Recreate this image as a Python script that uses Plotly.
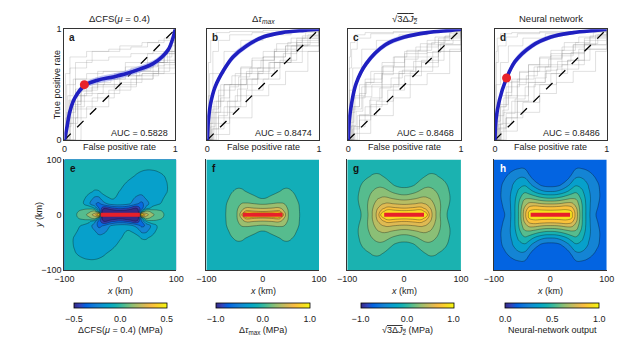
import plotly.graph_objects as go

W, H = 640, 347
FONT = "Liberation Sans, Arial, sans-serif"

# ---------------- ROC data (panels a-d) ----------------
roc_titles = ["ΔCFS(<i>μ</i> = 0.4)", "Δ<i>τ</i><sub><i>max</i></sub>",
              "√<span style='text-decoration:overline'>3Δ<i>J</i><sub>2</sub></span>", "Neural network"]
auc_values = ["0.5828", "0.8474", "0.8468", "0.8486"]
top_letters = ["a", "b", "c", "d"]

mean_fpr_a = [0, 0.02, 0.05, 0.094, 0.18, 0.3, 0.44, 0.56, 0.68, 0.8, 0.88, 0.94, 0.985, 1]
mean_tpr_a = [0, 0.10, 0.26, 0.38, 0.49, 0.54, 0.57, 0.60, 0.64, 0.69, 0.75, 0.82, 0.94, 1]
sd_a = [0, 0.02, 0.03, 0.03, 0.03, 0.03, 0.03, 0.03, 0.03, 0.03, 0.03, 0.03, 0.02, 0]

mean_fpr_b = [0, 0.01, 0.03, 0.07, 0.146, 0.23, 0.35, 0.5, 0.67, 0.87, 1]
mean_tpr_b = [0, 0.18, 0.33, 0.48, 0.63, 0.75, 0.85, 0.93, 0.97, 0.99, 1]
sd_b = [0, 0.03, 0.03, 0.03, 0.03, 0.03, 0.025, 0.02, 0.015, 0.01, 0]

mean_fpr_c = [0, 0.01, 0.03, 0.07, 0.16, 0.33, 0.5, 0.7, 0.91, 1]
mean_tpr_c = [0, 0.18, 0.33, 0.51, 0.69, 0.86, 0.93, 0.97, 0.99, 1]
sd_c = [0, 0.03, 0.03, 0.03, 0.03, 0.025, 0.02, 0.015, 0.01, 0]

mean_fpr_d = [0, 0.01, 0.04, 0.1, 0.18, 0.33, 0.5, 0.7, 0.9, 1]
mean_tpr_d = [0, 0.19, 0.36, 0.55, 0.71, 0.85, 0.93, 0.97, 0.99, 1]
sd_d = [0, 0.03, 0.03, 0.03, 0.03, 0.025, 0.02, 0.015, 0.01, 0]

dot_a = (0.18, 0.50)
dot_d = (0.104, 0.56)

gray_a = [
    ([0, 0.05, 0.15, 0.3, 0.45, 0.6, 0.8, 0.95, 1], [0, 0.35, 0.5, 0.55, 0.6, 0.65, 0.7, 0.85, 1]),
    ([0, 0.02, 0.1, 0.25, 0.5, 0.7, 0.85, 1], [0, 0.5, 0.7, 0.8, 0.85, 0.88, 0.9, 1]),
    ([0, 0.1, 0.2, 0.4, 0.6, 0.8, 1], [0, 0.2, 0.3, 0.45, 0.55, 0.6, 1]),
    ([0, 0.03, 0.08, 0.2, 0.35, 0.55, 0.75, 0.9, 1], [0, 0.4, 0.55, 0.6, 0.62, 0.7, 0.78, 0.8, 1]),
    ([0, 0.05, 0.12, 0.3, 0.5, 0.65, 0.85, 1], [0, 0.15, 0.35, 0.42, 0.5, 0.58, 0.7, 1]),
    ([0, 0.01, 0.05, 0.2, 0.4, 0.6, 0.75, 0.9, 1], [0, 0.6, 0.75, 0.8, 0.82, 0.84, 0.88, 0.92, 1]),
    ([0, 0.08, 0.18, 0.35, 0.5, 0.7, 0.85, 1], [0, 0.3, 0.42, 0.5, 0.52, 0.6, 0.65, 1]),
    ([0, 0.02, 0.1, 0.3, 0.55, 0.75, 0.9, 1], [0, 0.25, 0.55, 0.62, 0.66, 0.7, 0.78, 1]),
    ([0, 0.15, 0.3, 0.5, 0.7, 0.9, 1], [0, 0.45, 0.5, 0.58, 0.6, 0.68, 1]),
    ([0, 0.03, 0.12, 0.25, 0.45, 0.65, 0.8, 0.95, 1], [0, 0.2, 0.28, 0.38, 0.48, 0.55, 0.62, 0.7, 1]),
    ([0, 0.05, 0.2, 0.4, 0.6, 0.8, 1], [0, 0.65, 0.72, 0.75, 0.78, 0.8, 1]),
    ([0, 0.1, 0.25, 0.45, 0.65, 0.85, 1], [0, 0.4, 0.48, 0.55, 0.62, 0.72, 1]),
    ([0, 0.02, 0.06, 0.12, 0.2, 0.3, 0.42, 0.55, 0.68, 0.8, 0.9, 0.97, 1],
     [0, 0.12, 0.28, 0.4, 0.47, 0.52, 0.55, 0.58, 0.62, 0.67, 0.75, 0.88, 1]),
    ([0, 0.03, 0.08, 0.15, 0.25, 0.36, 0.48, 0.6, 0.72, 0.84, 0.93, 1],
     [0, 0.15, 0.32, 0.44, 0.5, 0.55, 0.6, 0.63, 0.66, 0.7, 0.8, 1]),
    ([0, 0.01, 0.04, 0.1, 0.18, 0.28, 0.4, 0.52, 0.65, 0.78, 0.9, 1],
     [0, 0.2, 0.36, 0.46, 0.52, 0.56, 0.58, 0.6, 0.63, 0.7, 0.78, 1]),
]
gray_b = [
    ([0, 0.02, 0.08, 0.2, 0.35, 0.5, 0.7, 0.9, 1], [0, 0.2, 0.35, 0.5, 0.62, 0.75, 0.85, 0.95, 1]),
    ([0, 0.05, 0.15, 0.3, 0.45, 0.6, 0.8, 1], [0, 0.1, 0.3, 0.5, 0.65, 0.8, 0.92, 1]),
    ([0, 0.01, 0.05, 0.15, 0.3, 0.5, 0.75, 1], [0, 0.4, 0.6, 0.8, 0.9, 0.95, 0.98, 1]),
    ([0, 0.1, 0.2, 0.35, 0.5, 0.65, 0.85, 1], [0, 0.15, 0.3, 0.45, 0.55, 0.7, 0.85, 1]),
    ([0, 0.03, 0.1, 0.25, 0.4, 0.6, 0.8, 1], [0, 0.25, 0.45, 0.6, 0.72, 0.82, 0.9, 1]),
    ([0, 0.02, 0.05, 0.1, 0.2, 0.4, 0.7, 1], [0, 0.6, 0.8, 0.9, 0.95, 0.97, 0.98, 1]),
    ([0, 0.05, 0.2, 0.4, 0.55, 0.7, 0.9, 1], [0, 0.05, 0.2, 0.4, 0.5, 0.62, 0.8, 1]),
    ([0, 0.04, 0.12, 0.3, 0.5, 0.7, 0.85, 1], [0, 0.3, 0.5, 0.65, 0.75, 0.85, 0.92, 1]),
    ([0, 0.08, 0.2, 0.3, 0.45, 0.6, 0.75, 1], [0, 0.2, 0.35, 0.55, 0.6, 0.7, 0.8, 1]),
    ([0, 0.02, 0.1, 0.25, 0.4, 0.55, 0.75, 1], [0, 0.15, 0.25, 0.4, 0.55, 0.7, 0.85, 1]),
    ([0, 0.01, 0.03, 0.08, 0.2, 0.5, 1], [0, 0.7, 0.9, 0.97, 0.98, 0.99, 1]),
    ([0, 0.06, 0.15, 0.35, 0.5, 0.65, 0.8, 1], [0, 0.35, 0.5, 0.6, 0.65, 0.72, 0.88, 1]),
    ([0, 0.02, 0.05, 0.1, 0.15, 0.22, 0.3, 0.4, 0.5, 0.62, 0.75, 0.88, 1],
     [0, 0.15, 0.28, 0.4, 0.5, 0.58, 0.66, 0.74, 0.8, 0.87, 0.92, 0.97, 1]),
    ([0, 0.03, 0.07, 0.12, 0.2, 0.28, 0.38, 0.48, 0.6, 0.72, 0.85, 1],
     [0, 0.12, 0.25, 0.38, 0.48, 0.57, 0.65, 0.72, 0.8, 0.88, 0.94, 1]),
    ([0, 0.04, 0.1, 0.18, 0.27, 0.36, 0.46, 0.56, 0.68, 0.8, 0.92, 1],
     [0, 0.1, 0.22, 0.35, 0.46, 0.55, 0.62, 0.7, 0.78, 0.86, 0.94, 1]),
]
gray_c = [
    ([0, 0.02, 0.06, 0.15, 0.3, 0.5, 0.7, 0.9, 1], [0, 0.25, 0.4, 0.55, 0.7, 0.8, 0.9, 0.96, 1]),
    ([0, 0.05, 0.15, 0.3, 0.45, 0.6, 0.8, 1], [0, 0.12, 0.3, 0.48, 0.62, 0.75, 0.9, 1]),
    ([0, 0.01, 0.04, 0.12, 0.25, 0.45, 0.7, 1], [0, 0.45, 0.65, 0.82, 0.9, 0.95, 0.98, 1]),
    ([0, 0.1, 0.2, 0.35, 0.5, 0.65, 0.85, 1], [0, 0.18, 0.32, 0.45, 0.58, 0.72, 0.86, 1]),
    ([0, 0.03, 0.1, 0.2, 0.4, 0.6, 0.8, 1], [0, 0.3, 0.5, 0.62, 0.75, 0.84, 0.92, 1]),
    ([0, 0.01, 0.03, 0.08, 0.2, 0.4, 0.7, 1], [0, 0.65, 0.82, 0.92, 0.96, 0.97, 0.98, 1]),
    ([0, 0.06, 0.2, 0.4, 0.55, 0.7, 0.9, 1], [0, 0.06, 0.22, 0.38, 0.5, 0.6, 0.82, 1]),
    ([0, 0.04, 0.12, 0.3, 0.5, 0.7, 0.85, 1], [0, 0.28, 0.48, 0.66, 0.78, 0.86, 0.93, 1]),
    ([0, 0.08, 0.2, 0.3, 0.45, 0.6, 0.8, 1], [0, 0.22, 0.38, 0.5, 0.6, 0.66, 0.8, 1]),
    ([0, 0.02, 0.1, 0.25, 0.4, 0.55, 0.75, 1], [0, 0.12, 0.22, 0.35, 0.5, 0.62, 0.8, 1]),
    ([0, 0.01, 0.02, 0.06, 0.15, 0.4, 1], [0, 0.75, 0.88, 0.95, 0.97, 0.98, 1]),
    ([0, 0.05, 0.15, 0.3, 0.5, 0.65, 0.8, 1], [0, 0.38, 0.52, 0.6, 0.66, 0.7, 0.86, 1]),
    ([0, 0.02, 0.05, 0.1, 0.16, 0.23, 0.31, 0.41, 0.52, 0.64, 0.77, 0.9, 1],
     [0, 0.16, 0.3, 0.42, 0.52, 0.6, 0.67, 0.75, 0.81, 0.87, 0.93, 0.97, 1]),
    ([0, 0.03, 0.07, 0.13, 0.21, 0.3, 0.4, 0.5, 0.62, 0.74, 0.86, 1],
     [0, 0.13, 0.26, 0.39, 0.5, 0.59, 0.66, 0.73, 0.81, 0.88, 0.94, 1]),
    ([0, 0.04, 0.1, 0.19, 0.28, 0.38, 0.48, 0.58, 0.7, 0.82, 0.93, 1],
     [0, 0.1, 0.23, 0.36, 0.47, 0.56, 0.63, 0.71, 0.79, 0.87, 0.95, 1]),
]
gray_d = [
    ([0, 0.02, 0.08, 0.2, 0.35, 0.5, 0.7, 0.9, 1], [0, 0.22, 0.38, 0.55, 0.66, 0.76, 0.86, 0.95, 1]),
    ([0, 0.05, 0.15, 0.3, 0.45, 0.6, 0.8, 1], [0, 0.15, 0.35, 0.52, 0.66, 0.78, 0.9, 1]),
    ([0, 0.01, 0.05, 0.12, 0.25, 0.45, 0.7, 1], [0, 0.5, 0.7, 0.85, 0.92, 0.96, 0.98, 1]),
    ([0, 0.1, 0.2, 0.35, 0.5, 0.65, 0.85, 1], [0, 0.2, 0.35, 0.5, 0.6, 0.72, 0.86, 1]),
    ([0, 0.03, 0.1, 0.22, 0.4, 0.6, 0.8, 1], [0, 0.3, 0.48, 0.62, 0.74, 0.84, 0.92, 1]),
    ([0, 0.01, 0.03, 0.1, 0.2, 0.4, 0.7, 1], [0, 0.7, 0.85, 0.93, 0.96, 0.97, 0.98, 1]),
    ([0, 0.06, 0.2, 0.4, 0.55, 0.7, 0.9, 1], [0, 0.08, 0.25, 0.42, 0.52, 0.62, 0.8, 1]),
    ([0, 0.04, 0.12, 0.3, 0.5, 0.7, 0.85, 1], [0, 0.32, 0.52, 0.68, 0.78, 0.86, 0.93, 1]),
    ([0, 0.08, 0.2, 0.3, 0.45, 0.6, 0.8, 1], [0, 0.25, 0.4, 0.52, 0.6, 0.68, 0.82, 1]),
    ([0, 0.02, 0.1, 0.25, 0.4, 0.55, 0.75, 1], [0, 0.1, 0.2, 0.34, 0.5, 0.64, 0.82, 1]),
    ([0, 0.01, 0.02, 0.05, 0.15, 0.4, 1], [0, 0.8, 0.92, 0.96, 0.97, 0.98, 1]),
    ([0, 0.05, 0.15, 0.3, 0.5, 0.65, 0.8, 1], [0, 0.4, 0.55, 0.62, 0.68, 0.72, 0.86, 1]),
    ([0, 0.02, 0.05, 0.1, 0.15, 0.22, 0.3, 0.4, 0.5, 0.62, 0.75, 0.88, 1],
     [0, 0.17, 0.3, 0.43, 0.53, 0.61, 0.68, 0.75, 0.81, 0.88, 0.93, 0.97, 1]),
    ([0, 0.03, 0.07, 0.12, 0.2, 0.28, 0.38, 0.48, 0.6, 0.72, 0.85, 1],
     [0, 0.14, 0.27, 0.4, 0.5, 0.58, 0.66, 0.73, 0.81, 0.88, 0.94, 1]),
    ([0, 0.04, 0.1, 0.18, 0.27, 0.36, 0.46, 0.56, 0.68, 0.8, 0.92, 1],
     [0, 0.11, 0.24, 0.37, 0.48, 0.56, 0.63, 0.71, 0.79, 0.87, 0.95, 1]),
]
diag = [0, 1]

# ---------------- Map data (panels e-h) ----------------
map_letters = ["e", "f", "g", "h"]
cbar_titles = ["ΔCFS(<i>μ</i> = 0.4) (MPa)", "Δ<i>τ</i><sub>max</sub> (MPa)",
               "√<span style='text-decoration:overline'>3Δ<i>J</i><sub>2</sub></span> (MPa)",
               "Neural-network output"]
cbar_ranges = [(-0.5, 0.5), (-1.0, 1.0), (-1.0, 1.0), (0.0, 1.0)]
cbar_ticks = [[-0.5, 0.0, 0.5], [-1.0, 0.0, 1.0], [-1.0, 0.0, 1.0], [0.0, 0.5, 1.0]]
map_ticks = [-100, 0, 100]
fault_x = [-35, 35]
fault_y = [0, 0]

# e: Coulomb stress change, upper half (y >= 0); lower half has 180-degree symmetry
e_x = [-100, -82, -68, -56, -46, -38, -30, -15, 0, 15, 30, 38, 46, 56, 68, 82, 100]
e_y_half = [0, 6, 12, 20, 30, 42, 55, 70, 85, 100]
e_half = [
    [0.0, 0.03, 0.10, 0.18, 0.30, 0.60, -0.8, -0.8, -0.8, -0.8, -0.8, 0.60, 0.30, 0.18, 0.10, 0.03, 0.0],
    [0.0, 0.02, 0.08, 0.13, 0.18, -0.10, -0.60, -0.55, -0.50, -0.55, -0.60, -0.10, 0.18, 0.13, 0.08, 0.02, 0.0],
    [0.0, 0.0, 0.02, 0.02, -0.06, -0.26, -0.42, -0.36, -0.32, -0.36, -0.44, -0.30, -0.12, -0.03, 0.0, 0.0, 0.0],
    [0.0, 0.0, -0.03, -0.13, -0.24, -0.27, -0.19, -0.10, -0.09, -0.13, -0.24, -0.28, -0.20, -0.10, -0.06, -0.02, 0.0],
    [0.0, 0.0, -0.02, -0.09, -0.17, -0.17, -0.08, -0.04, -0.07, -0.11, -0.17, -0.19, -0.14, -0.09, -0.07, -0.04, -0.01],
    [0.0, 0.0, 0.0, -0.03, -0.06, -0.055, -0.025, -0.02, -0.055, -0.09, -0.11, -0.11, -0.10, -0.09, -0.08, -0.055, -0.01],
    [0.0, 0.0, 0.0, 0.0, -0.01, -0.01, 0.0, 0.0, -0.03, -0.07, -0.09, -0.09, -0.09, -0.085, -0.08, -0.055, -0.01],
    [0.0, 0.0, 0.0, 0.0, 0.0, 0.0, 0.0, 0.0, -0.01, -0.03, -0.06, -0.07, -0.075, -0.075, -0.065, -0.045, -0.01],
    [0.0, 0.0, 0.0, 0.0, 0.0, 0.0, 0.0, 0.0, 0.0, -0.01, -0.025, -0.035, -0.04, -0.04, -0.035, -0.02, 0.0],
    [0.0, 0.0, 0.0, 0.0, 0.0, 0.0, 0.0, 0.0, 0.0, 0.0, 0.0, -0.01, -0.01, -0.01, 0.0, 0.0, 0.0],
]

# f, g, h: one quadrant (x >= 0, y >= 0), mirror-symmetric fields
q_x = [0, 15, 30, 38, 46, 56, 68, 82, 100]
q_y = [0, 6, 12, 20, 30, 42, 55, 70, 85, 100]
f_quad = [
    [1.5, 1.5, 1.5, 0.6, 0.28, 0.18, 0.08, 0.03, 0.01],
    [0.7, 0.72, 0.75, 0.5, 0.28, 0.17, 0.08, 0.03, 0.01],
    [0.48, 0.5, 0.52, 0.4, 0.26, 0.16, 0.08, 0.03, 0.01],
    [0.27, 0.3, 0.32, 0.3, 0.22, 0.15, 0.075, 0.03, 0.01],
    [0.09, 0.12, 0.17, 0.18, 0.16, 0.12, 0.06, 0.025, 0.01],
    [0.05, 0.07, 0.1, 0.12, 0.12, 0.09, 0.05, 0.02, 0.01],
    [0.035, 0.045, 0.06, 0.07, 0.07, 0.055, 0.035, 0.015, 0.008],
    [0.025, 0.03, 0.035, 0.04, 0.04, 0.035, 0.025, 0.012, 0.006],
    [0.015, 0.018, 0.02, 0.022, 0.022, 0.02, 0.015, 0.008, 0.004],
    [0.01, 0.012, 0.013, 0.014, 0.014, 0.013, 0.01, 0.006, 0.003],
]
g_quad = [
    [1.5, 1.5, 1.5, 1.0, 0.62, 0.4, 0.16, 0.05, 0.01],
    [0.9, 0.92, 0.95, 0.8, 0.6, 0.4, 0.17, 0.05, 0.01],
    [0.7, 0.72, 0.74, 0.66, 0.55, 0.38, 0.19, 0.06, 0.01],
    [0.52, 0.54, 0.57, 0.54, 0.48, 0.35, 0.2, 0.08, 0.01],
    [0.34, 0.37, 0.42, 0.42, 0.39, 0.3, 0.2, 0.09, 0.01],
    [0.16, 0.2, 0.28, 0.31, 0.3, 0.25, 0.18, 0.08, 0.01],
    [0.05, 0.07, 0.16, 0.2, 0.21, 0.19, 0.14, 0.06, 0.01],
    [0.03, 0.035, 0.06, 0.1, 0.12, 0.11, 0.07, 0.03, 0.008],
    [0.02, 0.02, 0.03, 0.04, 0.05, 0.05, 0.03, 0.02, 0.006],
    [0.012, 0.013, 0.018, 0.02, 0.02, 0.02, 0.015, 0.01, 0.005],
]
h_quad = [
    [1.0, 1.0, 1.0, 0.97, 0.8, 0.56, 0.37, 0.24, 0.15],
    [0.98, 0.98, 0.98, 0.95, 0.79, 0.56, 0.37, 0.25, 0.15],
    [0.90, 0.91, 0.92, 0.88, 0.76, 0.56, 0.37, 0.26, 0.16],
    [0.74, 0.75, 0.78, 0.77, 0.71, 0.55, 0.37, 0.27, 0.17],
    [0.55, 0.57, 0.62, 0.64, 0.63, 0.52, 0.37, 0.28, 0.18],
    [0.35, 0.37, 0.45, 0.5, 0.53, 0.47, 0.36, 0.28, 0.18],
    [0.20, 0.22, 0.31, 0.38, 0.43, 0.41, 0.34, 0.27, 0.17],
    [0.15, 0.15, 0.2, 0.27, 0.33, 0.33, 0.29, 0.23, 0.15],
    [0.13, 0.13, 0.14, 0.18, 0.24, 0.24, 0.22, 0.18, 0.13],
    [0.12, 0.12, 0.12, 0.13, 0.16, 0.16, 0.15, 0.14, 0.12],
]
# contour levels: (start, size, count)
e_levels = (-0.45, 0.1, 10)
f_levels = (0.1, 0.2, 5)
g_levels = (0.1, 0.15, 6)
h_levels = (0.25, 0.1, 8)

# ---------------- parula colormap ----------------
PARULA_ANCHORS = [
    (0.2081, 0.1663, 0.5292), (0.1959, 0.2645, 0.7279), (0.0117, 0.3875, 0.8820),
    (0.0498, 0.4586, 0.8641), (0.0793, 0.5200, 0.8312), (0.0343, 0.5966, 0.8199),
    (0.0228, 0.6535, 0.7768), (0.0843, 0.6928, 0.7062), (0.2178, 0.7250, 0.6193),
    (0.3953, 0.7459, 0.5244), (0.5709, 0.7485, 0.4494), (0.7184, 0.7411, 0.3905),
    (0.8507, 0.7299, 0.3360), (0.9739, 0.7314, 0.2666), (0.9880, 0.8066, 0.1794),
    (0.9589, 0.8949, 0.1132), (0.9763, 0.9831, 0.0538),
]
PARULA_POS = [i * 4 / 63 for i in range(16)] + [1.0]


def parula(t):
    t = max(0.0, min(1.0, t))
    for k in range(len(PARULA_POS) - 1):
        p0, p1 = PARULA_POS[k], PARULA_POS[k + 1]
        if t <= p1:
            u = (t - p0) / (p1 - p0)
            c0, c1 = PARULA_ANCHORS[k], PARULA_ANCHORS[k + 1]
            r, g, b = [c0[i] + u * (c1[i] - c0[i]) for i in range(3)]
            return f"rgb({round(r*255)},{round(g*255)},{round(b*255)})"
    c = PARULA_ANCHORS[-1]
    return f"rgb({round(c[0]*255)},{round(c[1]*255)},{round(c[2]*255)})"


PARULA_SCALE = [[p, parula(p)] for p in PARULA_POS]


def band_scale(levels, crange):
    start, size, n = levels
    cmin, cmax = crange
    scale = []
    for k in range(n + 1):
        lower = start + (k - 1) * size
        t = (lower - cmin) / (cmax - cmin)
        if k == 0:
            t -= 0.02
        scale.append([k / n, parula(t)])
    return scale


def mirror_quad(qx, qy, quad):
    xs = [-v for v in qx[:0:-1]] + qx
    ys = [-v for v in qy[:0:-1]] + qy
    rows = [r[:0:-1] + r for r in quad]
    z = rows[:0:-1] + rows
    return xs, ys, z


def rotate_half(xs, yh, half):
    ys = [-v for v in yh[:0:-1]] + yh
    lower = [r[::-1] for r in half[:0:-1]]
    return xs, ys, lower + half


# ---------------- figure ----------------
def pxx(x):
    return x / W


def pxy(y):
    return 1 - y / H


top_boxes = [(56, 170), (203, 318), (348, 464), (499, 614)]
top_y = (25, 139)
bot_boxes = [(56, 171), (202, 318), (347, 464), (498, 614)]
bot_y = (159, 273)
cbar_boxes = [(67, 160), (213, 307), (362, 455), (511, 605)]

fig = go.Figure()

roc_sets = [
    (gray_a, mean_fpr_a, mean_tpr_a, sd_a, dot_a),
    (gray_b, mean_fpr_b, mean_tpr_b, sd_b, None),
    (gray_c, mean_fpr_c, mean_tpr_c, sd_c, None),
    (gray_d, mean_fpr_d, mean_tpr_d, sd_d, dot_d),
]

for i, (gray, fpr, tpr, sd, dot) in enumerate(roc_sets):
    xa = "x" if i == 0 else f"x{i+1}"
    ya = "y" if i == 0 else f"y{i+1}"
    common = dict(xaxis=xa, yaxis=ya, showlegend=False, hoverinfo="skip")
    for gx, gy in gray:
        fig.add_trace(go.Scatter(x=gx, y=gy, mode="lines",
                                 line=dict(color="rgba(135,135,135,0.42)", width=0.6, shape="hv"), **common))
    fig.add_trace(go.Scatter(x=diag, y=diag, mode="lines",
                             line=dict(color="black", width=1.3, dash="dash"), **common))
    up = [min(1.0, t + d) for t, d in zip(tpr, sd)]
    lo = [max(0.0, t - d) for t, d in zip(tpr, sd)]
    fig.add_trace(go.Scatter(x=fpr + fpr[::-1], y=up + lo[::-1], mode="lines", fill="toself",
                             fillcolor="rgba(120,130,235,0.45)",
                             line=dict(width=0, color="rgba(0,0,0,0)", shape="spline"), **common))
    fig.add_trace(go.Scatter(x=fpr, y=tpr, mode="lines",
                             line=dict(color="#1f1fc0", width=3.6, shape="spline"), **common))
    if dot is not None:
        fig.add_trace(go.Scatter(x=[dot[0]], y=[dot[1]], mode="markers",
                                 marker=dict(color="#e8232a", size=9), **common))

map_data = [
    rotate_half(e_x, e_y_half, e_half),
    mirror_quad(q_x, q_y, f_quad),
    mirror_quad(q_x, q_y, g_quad),
    mirror_quad(q_x, q_y, h_quad),
]
map_levels = [e_levels, f_levels, g_levels, h_levels]

for j in range(4):
    k = j + 5
    xa, ya = f"x{k}", f"y{k}"
    common = dict(xaxis=xa, yaxis=ya, showlegend=False, hoverinfo="skip")
    xs, ys, z = map_data[j]
    start, size, n = map_levels[j]
    fig.add_trace(go.Contour(
        x=xs, y=ys, z=z, autocontour=False,
        contours=dict(start=start, end=start + (n - 1) * size + 1e-9, size=size,
                      coloring="fill", showlines=True),
        colorscale=band_scale(map_levels[j], cbar_ranges[j]), showscale=False,
        line=dict(color="rgba(10,10,10,0.55)", width=0.6, smoothing=1.3), **common))
    cmin, cmax = cbar_ranges[j]
    cx = (cbar_boxes[j][0] + cbar_boxes[j][1]) / 2
    fig.add_trace(go.Scatter(
        x=[0], y=[0], mode="markers",
        marker=dict(size=2, color=[cmin], cmin=cmin, cmax=cmax, colorscale=PARULA_SCALE, showscale=True,
                    colorbar=dict(orientation="h", x=pxx(cx), xanchor="center", y=pxy(307), yanchor="top",
                                  len=cbar_boxes[j][1] - cbar_boxes[j][0], lenmode="pixels",
                                  thickness=5, thicknessmode="pixels", outlinewidth=0.8, outlinecolor="black",
                                  tickvals=cbar_ticks[j], tickformat=".1f", ticks="outside", ticklen=3,
                                  tickcolor="rgba(0,0,0,0)",
                                  tickfont=dict(size=9, family=FONT, color="#222"), xpad=0, ypad=0)),
        **common))
    fig.add_trace(go.Scatter(x=fault_x, y=fault_y, mode="lines",
                             line=dict(color="#e8202a", width=4), **common))

layout = dict(width=W, height=H, margin=dict(l=0, r=0, t=0, b=0),
              paper_bgcolor="white", plot_bgcolor="white",
              font=dict(family=FONT, size=9, color="#222"), showlegend=False)

for i in range(4):
    xn = "xaxis" if i == 0 else f"xaxis{i+1}"
    yn = "yaxis" if i == 0 else f"yaxis{i+1}"
    anchor_x = "y" if i == 0 else f"y{i+1}"
    anchor_y = "x" if i == 0 else f"x{i+1}"
    x0, x1 = top_boxes[i]
    layout[xn] = dict(domain=[pxx(x0), pxx(x1)], anchor=anchor_x, range=[0, 1], tickvals=[0, 1],
                      ticktext=["0", "1"], ticks="", showline=True, mirror=True, linecolor="#333",
                      linewidth=1, showgrid=False, zeroline=False, fixedrange=True)
    layout[yn] = dict(domain=[pxy(top_y[1]), pxy(top_y[0])], anchor=anchor_y, range=[0, 1], tickvals=[0, 1],
                      ticktext=["0", "1"], ticks="", showline=True, mirror=True, linecolor="#333",
                      linewidth=1, showgrid=False, zeroline=False, showticklabels=(i == 0), fixedrange=True)

for j in range(4):
    k = j + 5
    x0, x1 = bot_boxes[j]
    layout[f"xaxis{k}"] = dict(domain=[pxx(x0), pxx(x1)], anchor=f"y{k}", range=[-100, 100],
                               tickvals=map_ticks, ticks="", showline=True, mirror=False,
                               linecolor="#333", linewidth=1, showgrid=False, zeroline=False, fixedrange=True)
    layout[f"yaxis{k}"] = dict(domain=[pxy(bot_y[1]), pxy(bot_y[0])], anchor=f"x{k}", range=[-100, 100],
                               tickvals=map_ticks, ticks="", showline=True, mirror=False,
                               linecolor="#333", linewidth=1, showgrid=False, zeroline=False,
                               showticklabels=(j == 0), fixedrange=True)

ann = []


def add_text(x, y, text, size=9, color="#222", xanchor="center", yanchor="middle", angle=0):
    ann.append(dict(x=pxx(x), y=pxy(y), xref="paper", yref="paper", text=text, showarrow=False,
                    xanchor=xanchor, yanchor=yanchor, textangle=angle,
                    font=dict(size=size, color=color, family=FONT)))


for i in range(4):
    x0, x1 = top_boxes[i]
    cx = (x0 + x1) / 2
    add_text(cx, 14, roc_titles[i], size=9.5)
    add_text(cx, 146.5, "False positive rate")
    add_text(x0 + 3, top_y[0] + 8, f"<b>{top_letters[i]}</b>", size=10, xanchor="left")
    add_text(x1 - 5, top_y[1] - 7, f"AUC = {auc_values[i]}", xanchor="right")
add_text(48, 82, "True positive rate", angle=-90)

for j in range(4):
    x0, x1 = bot_boxes[j]
    cx = (x0 + x1) / 2
    add_text(cx, 294, "<i>x</i> (km)")
    add_text(x0 + 4, bot_y[0] + 9, f"<b>{map_letters[j]}</b>", size=10,
             color=("white" if j == 3 else "#111"), xanchor="left")
    c0, c1 = cbar_boxes[j]
    add_text((c0 + c1) / 2, 335, cbar_titles[j])
add_text(30, 216, "<i>y</i> (km)", angle=-90)

layout["annotations"] = ann
fig.update_layout(**layout)
fig.write_html("out.html")
